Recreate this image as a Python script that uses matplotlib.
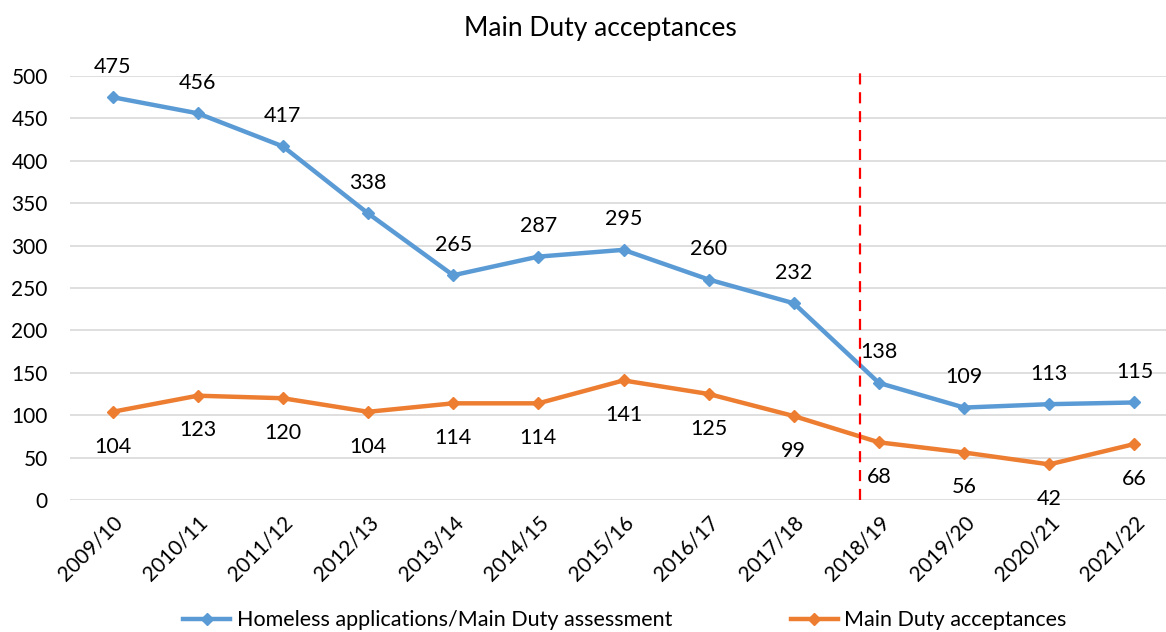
import numpy as np
import matplotlib.pyplot as plt

plt.rcParams['font.family'] = ['Lato', 'DejaVu Sans']

years = ['2009/10', '2010/11', '2011/12', '2012/13', '2013/14', '2014/15', '2015/16',
         '2016/17', '2017/18', '2018/19', '2019/20', '2020/21', '2021/22']
applications = [475, 456, 417, 338, 265, 287, 295, 260, 232, 138, 109, 113, 115]
acceptances = [104, 123, 120, 104, 114, 114, 141, 125, 99, 68, 56, 42, 66]
split_pos = 8.78

blue = '#5B9BD5'
orange = '#ED7D31'

fig = plt.figure(figsize=(11.66, 6.32), dpi=100)
ax = fig.add_axes([70 / 1166, 132 / 632, 1107 / 1166, 424 / 632])

x = np.arange(len(years))
ax.plot(x, applications, color=blue, lw=3.2, marker='D', ms=6.5,
        label='Homeless applications/Main Duty assessment')
ax.plot(x, acceptances, color=orange, lw=3.2, marker='D', ms=6.5,
        label='Main Duty acceptances')

for xi, v in zip(x, applications):
    ax.annotate(str(v), (xi, v), xytext=(0, 22), textcoords='offset points',
                ha='center', va='center', fontsize=15.5)
for xi, v in zip(x, acceptances):
    ax.annotate(str(v), (xi, v), xytext=(0, -25), textcoords='offset points',
                ha='center', va='center', fontsize=15.5)

ax.plot([split_pos, split_pos], [0, 505], color='red', lw=1.6, ls=(0, (5, 3.5)),
        clip_on=False, zorder=5)

ax.set_xlim(-0.5, len(years) - 0.5)
ax.set_ylim(0, 500)
ax.set_yticks(range(0, 501, 50))
ax.set_xticks(x)
ax.set_xticklabels(years, rotation=45, ha='right', rotation_mode='anchor')
ax.tick_params(axis='both', length=0, labelsize=15)
ax.tick_params(axis='y', pad=16)
ax.tick_params(axis='x', pad=9)
ax.grid(axis='y', color='#D9D9D9', lw=1.2)
ax.set_axisbelow(True)
for s in ax.spines.values():
    s.set_visible(False)

fig.text(0.515, 0.955, 'Main Duty acceptances', ha='center', va='center', fontsize=19)
fig.legend(loc='lower center', bbox_to_anchor=(0.536, -0.028), ncol=2, frameon=False,
           fontsize=15.5, columnspacing=5.5, handlelength=2.2, handletextpad=0.3)

fig.savefig('out.png', dpi=100)
